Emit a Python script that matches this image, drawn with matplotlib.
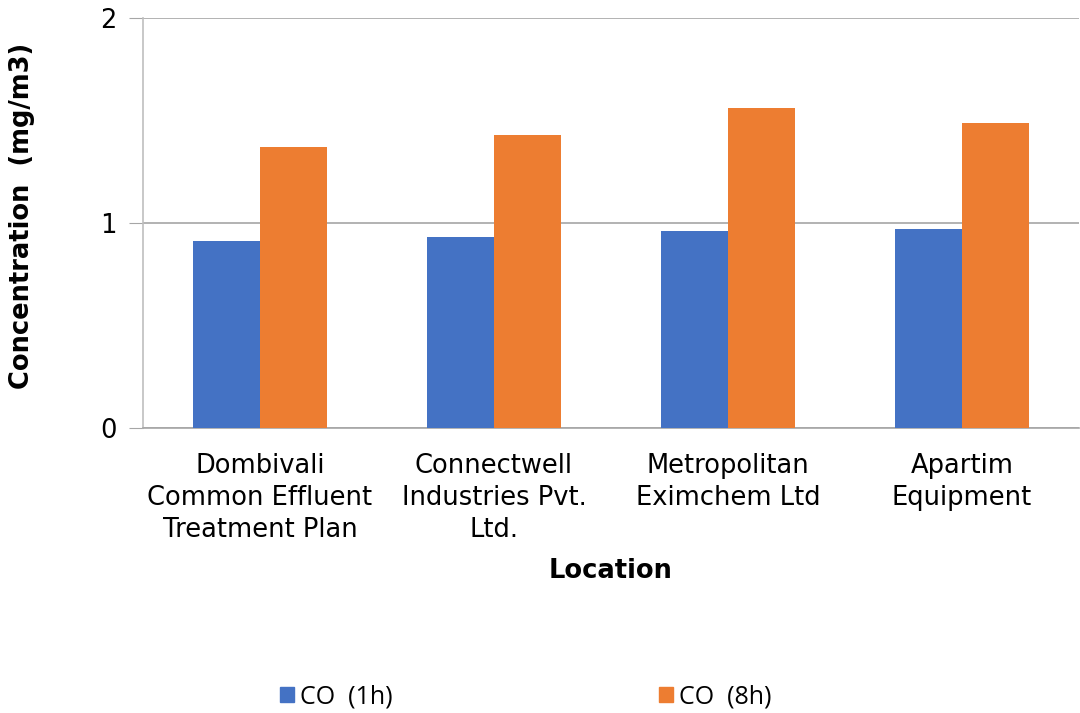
import matplotlib
matplotlib.use("Agg")
import matplotlib.pyplot as plt
import numpy as np
from matplotlib.patches import Patch

plt.rcParams["font.family"] = ["DejaVu Sans"]

categories = ["Dombivali\nCommon Effluent\nTreatment Plan",
              "Connectwell\nIndustries Pvt.\nLtd.",
              "Metropolitan\nEximchem Ltd",
              "Apartim\nEquipment"]
co_1h = [0.91, 0.93, 0.96, 0.97]
co_8h = [1.37, 1.43, 1.56, 1.49]
series_names = ["CO  (1h)", "CO  (8h)"]
colors = ["#4472C4", "#ED7D31"]

fig = plt.figure(figsize=(10.8, 7.13), dpi=100)
ax = fig.add_axes([143/1080, 1-428/713, (1079-143)/1080, (428-18)/713])

x = np.arange(len(categories))
w = 0.287
ax.bar(x - w/2, co_1h, w, color=colors[0], zorder=3)
ax.bar(x + w/2, co_8h, w, color=colors[1], zorder=3)

ax.set_xlim(-0.5, len(categories) - 0.5)
ax.set_ylim(0, 2)
ax.set_yticks([0, 1, 2])
ax.set_yticklabels(["0", "1", "2"], fontsize=18.5)
ax.set_xticks(x)
ax.set_xticklabels(categories, fontsize=18.5, linespacing=1.3)
ax.tick_params(axis="x", length=0, pad=18)
ax.tick_params(axis="y", length=10, color="#A6A6A6", pad=9)
ax.grid(axis="y", color="#A6A6A6", linewidth=1.2, zorder=0)
for s in ["top", "right"]:
    ax.spines[s].set_visible(False)
ax.spines["left"].set_color("#BFBFBF")
ax.spines["bottom"].set_color("#A6A6A6")
ax.spines["left"].set_linewidth(1.2)
ax.spines["bottom"].set_linewidth(1.2)

ax.set_xlabel("Location", fontsize=18.5, fontweight="bold", labelpad=11)
ax.set_ylabel("Concentration  (mg/m3)", fontsize=18.5, fontweight="bold")
ax.yaxis.set_label_coords(-0.115, 0.517)

handles = [Patch(color=colors[0]), Patch(color=colors[1])]
fig.legend(handles, series_names, loc="center", bbox_to_anchor=(526/1080, 1-697/713),
           ncol=2, frameon=False, prop={"family": "Open Sans", "size": 18},
           handlelength=0.55, handleheight=0.55, handletextpad=0.25, columnspacing=10.64)

fig.savefig("out.png", dpi=100)
